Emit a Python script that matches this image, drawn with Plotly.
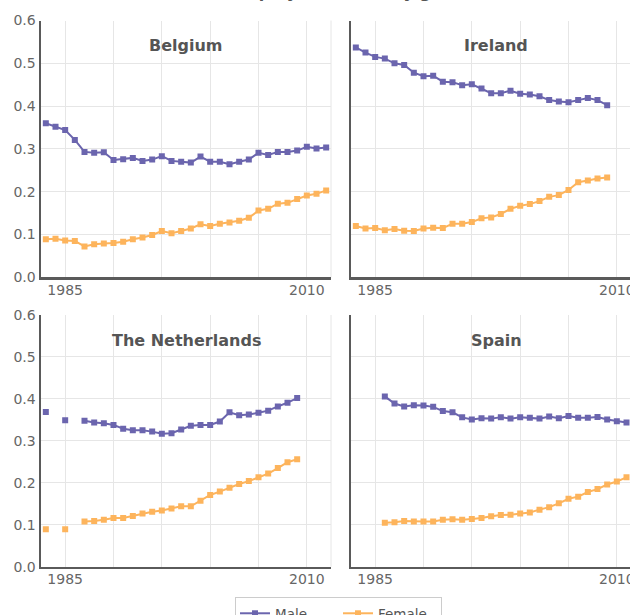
import plotly.graph_objects as go

years_be = list(range(1983, 2013))
be_male = [0.360, 0.352, 0.344, 0.321, 0.293, 0.291, 0.292, 0.274, 0.276, 0.279,
           0.272, 0.275, 0.283, 0.272, 0.270, 0.268, 0.282, 0.270, 0.270, 0.264,
           0.270, 0.275, 0.291, 0.286, 0.293, 0.293, 0.296, 0.305, 0.301, 0.303]
be_female = [0.089, 0.090, 0.086, 0.085, 0.072, 0.077, 0.079, 0.080, 0.083, 0.089,
             0.093, 0.099, 0.108, 0.103, 0.108, 0.114, 0.124, 0.120, 0.125, 0.128,
             0.132, 0.139, 0.156, 0.160, 0.172, 0.174, 0.183, 0.191, 0.195, 0.203]

years_ie = list(range(1983, 2010))
ie_male = [0.537, 0.525, 0.515, 0.511, 0.500, 0.496, 0.478, 0.470, 0.471, 0.457,
           0.456, 0.449, 0.451, 0.441, 0.430, 0.430, 0.436, 0.429, 0.427, 0.423,
           0.414, 0.411, 0.409, 0.414, 0.419, 0.414, 0.402]
ie_female = [0.120, 0.114, 0.115, 0.110, 0.113, 0.109, 0.108, 0.114, 0.116, 0.115,
             0.125, 0.125, 0.129, 0.138, 0.140, 0.148, 0.160, 0.167, 0.171, 0.178,
             0.188, 0.192, 0.204, 0.222, 0.226, 0.231, 0.233]

years_nl = list(range(1983, 2010))
nl_male = [0.369, None, 0.349, None, 0.348, 0.344, 0.342, 0.338, 0.329, 0.325,
           0.325, 0.322, 0.317, 0.318, 0.327, 0.336, 0.338, 0.338, 0.346, 0.368,
           0.361, 0.363, 0.367, 0.372, 0.382, 0.391, 0.402]
nl_female = [0.089, None, 0.089, None, 0.108, 0.109, 0.112, 0.116, 0.116, 0.121,
             0.127, 0.131, 0.134, 0.139, 0.144, 0.144, 0.157, 0.171, 0.179, 0.188,
             0.197, 0.204, 0.213, 0.222, 0.235, 0.249, 0.256]

years_es = list(range(1986, 2012))
es_male = [0.406, 0.389, 0.382, 0.385, 0.384, 0.381, 0.371, 0.368, 0.356, 0.351,
           0.354, 0.353, 0.356, 0.353, 0.356, 0.355, 0.353, 0.358, 0.354, 0.359,
           0.355, 0.355, 0.357, 0.351, 0.347, 0.344]
es_female = [0.105, 0.106, 0.109, 0.108, 0.108, 0.108, 0.112, 0.113, 0.112, 0.114,
             0.116, 0.120, 0.123, 0.124, 0.127, 0.129, 0.136, 0.142, 0.151, 0.162,
             0.167, 0.178, 0.185, 0.196, 0.203, 0.213]

countries = ["Belgium", "Ireland", "The Netherlands", "Spain"]
series = [
    (years_be, be_male, be_female),
    (years_ie, ie_male, ie_female),
    (years_nl, nl_male, nl_female),
    (years_es, es_male, es_female),
]
x_tick_vals = [1985, 1990, 1995, 2000, 2005, 2010]
x_tick_text = ["1985", "", "", "", "", "2010"]
y_tick_vals = [0.0, 0.1, 0.2, 0.3, 0.4, 0.5, 0.6]
y_tick_text = ["0.0", "0.1", "0.2", "0.3", "0.4", "0.5", "0.6"]

MALE_COLOR = "#6b65ae"
FEMALE_COLOR = "#fdb45c"
W, H = 630, 615

fig = go.Figure()

px_per_year = 290 / 30
left_dom = [41 / W, 331 / W]
right_dom = [351 / W, 1.0]
right_end = 1982.5 + (W - 351) / px_per_year
x_domains = [left_dom, right_dom, left_dom, right_dom]
x_ranges = [[1982.5, 2012.5], [1982.5, right_end], [1982.5, 2012.5], [1982.5, right_end]]
top_dom = [(H - 277.3) / H, (H - 20.5) / H]
bot_dom = [(H - 566.7) / H, (H - 315) / H]
y_domains = [top_dom, top_dom, bot_dom, bot_dom]

tick_font = dict(family="DejaVu Sans", size=14, color="#666666")

for i, (name, (yrs, m, f)) in enumerate(zip(countries, series)):
    ax = "" if i == 0 else str(i + 1)
    fig.add_trace(go.Scatter(
        x=yrs, y=m, mode="lines+markers", name="Male",
        line=dict(color=MALE_COLOR, width=2),
        marker=dict(symbol="square", size=6, color=MALE_COLOR),
        connectgaps=False, showlegend=(i == 0), legendgroup="m",
        xaxis="x" + ax, yaxis="y" + ax))
    fig.add_trace(go.Scatter(
        x=yrs, y=f, mode="lines+markers", name="Female",
        line=dict(color=FEMALE_COLOR, width=2),
        marker=dict(symbol="square", size=6, color=FEMALE_COLOR),
        connectgaps=False, showlegend=(i == 0), legendgroup="f",
        xaxis="x" + ax, yaxis="y" + ax))
    xa = dict(domain=x_domains[i], range=x_ranges[i], anchor="y" + ax,
              tickvals=x_tick_vals, ticktext=x_tick_text,
              showgrid=True, gridcolor="#e6e6e6", gridwidth=1,
              showline=True, linecolor="#5a5a5a", linewidth=2.5,
              zeroline=False, ticks="", automargin=False, fixedrange=True,
              ticklabelstandoff=-2, ticklabeloverflow="allow",
              tickfont=tick_font)
    ya = dict(domain=y_domains[i], range=[0, 0.6], anchor="x" + ax,
              tickvals=y_tick_vals, ticktext=y_tick_text,
              showticklabels=(i % 2 == 0),
              showgrid=True, gridcolor="#e6e6e6", gridwidth=1,
              showline=True, linecolor="#5a5a5a", linewidth=2.5,
              zeroline=False, ticks="", automargin=False, fixedrange=True,
              tickfont=tick_font)
    fig.layout["xaxis" + ax] = xa
    fig.layout["yaxis" + ax] = ya
    fig.add_annotation(x=1997.5, y=1, xref="x" + ax, yref="y" + ax + " domain",
                       yanchor="middle", yshift=-25, showarrow=False,
                       text="<b>" + name + "</b>",
                       font=dict(family="DejaVu Sans", size=16, color="#555555"))

# light right borders of left column plots
for dom in [top_dom, bot_dom]:
    fig.add_shape(type="line", xref="paper", yref="paper",
                  x0=331 / W, x1=331 / W, y0=dom[0], y1=dom[1],
                  line=dict(color="#e6e6e6", width=1), layer="below")

# chart title (mostly cropped above the view, as in the reference)
fig.add_annotation(x=336 / W, y=1, xref="paper", yref="paper", yanchor="bottom",
                   yshift=-4, showarrow=False,
                   text="<b>Self-employment rate by gender</b>",
                   font=dict(family="DejaVu Sans", size=16, color="#555555"))

fig.update_layout(
    width=W, height=H,
    margin=dict(l=0, r=0, t=0, b=0, autoexpand=False),
    paper_bgcolor="white", plot_bgcolor="white",
    showlegend=True,
    legend=dict(orientation="h", xref="container", yref="container",
                x=338.5 / W, xanchor="center",
                y=(H - 597) / H, yanchor="top",
                entrywidth=58,
                bordercolor="#cccccc", borderwidth=1,
                font=dict(family="DejaVu Sans", size=13.5, color="#555555")),
)

# remove the default page margin so the 630x615 figure fills the window exactly
page_fix = ("document.documentElement.style.margin='0';"
            "document.documentElement.style.overflow='hidden';"
            "document.body.style.margin='0';"
            "document.body.style.overflow='hidden';")

fig.write_html("out.html", post_script=page_fix,
               config={"displayModeBar": False, "staticPlot": True})
